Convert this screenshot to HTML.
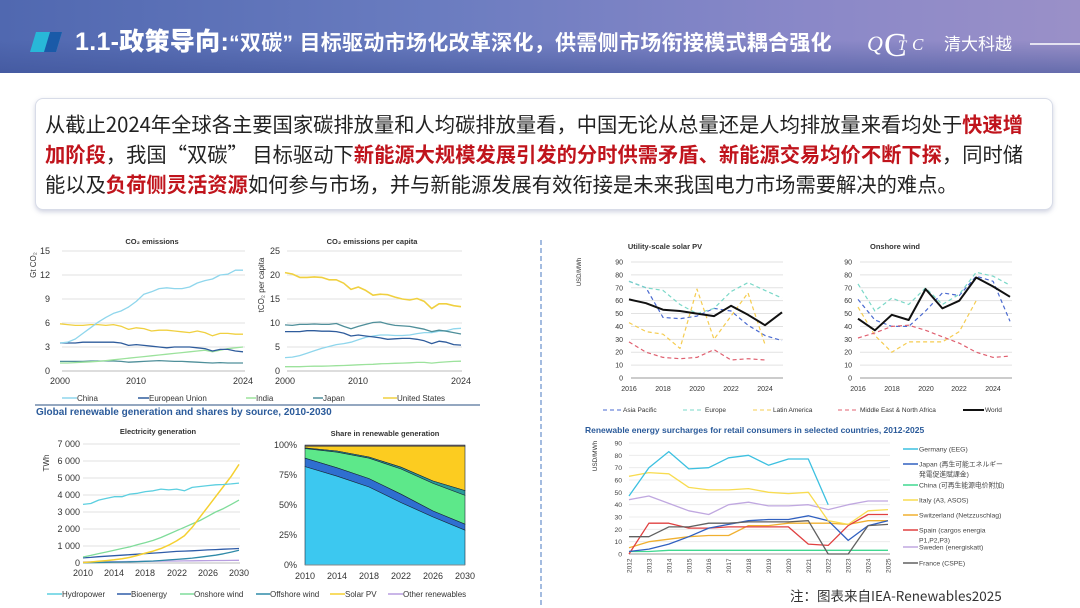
<!DOCTYPE html>
<html><head><meta charset="utf-8">
<style>
html,body{margin:0;padding:0;background:#fff;}
body{width:1080px;height:608px;position:relative;overflow:hidden;font-family:"Liberation Sans","Noto Sans CJK SC",sans-serif;}
.hdr{position:absolute;left:0;top:0;width:1080px;height:73px;background:linear-gradient(90deg,#5068b0 0%,#6a7cc0 40%,#8a88c8 75%,#9a90c8 100%);}
.hdr .sky{position:absolute;left:0;top:40px;width:1080px;height:33px;background:linear-gradient(180deg,rgba(80,100,170,0) 0%,rgba(60,80,150,0.55) 100%);}
.title{position:absolute;left:75px;top:22px;color:#fff;font-weight:bold;font-size:21px;white-space:nowrap;font-family:"Liberation Sans","Noto Sans CJK SC",sans-serif;letter-spacing:0.3px;}
.title b{font-size:25px;}
.box{position:absolute;left:35px;top:98px;width:1016px;height:110px;border:1px solid #d8dce8;border-radius:8px;box-shadow:0 2px 5px rgba(120,130,170,0.35);background:#fff;}
.txt{position:absolute;left:45px;top:108px;width:1010px;font-size:20.3px;line-height:30px;color:#222;font-family:"Noto Sans CJK SC",sans-serif;white-space:nowrap;}
.txt em{font-style:normal;color:#c0141c;font-weight:bold;}
svg{position:absolute;left:0;top:0;}
</style></head><body>
<div class="hdr"><div class="sky"></div></div>
<svg width="1080" height="73" style="z-index:1">
<polygon points="36,32 62,32 56,52 30,52" fill="#28b8d8"/>
<polygon points="50,32 62,32 56,52 44,52" fill="#1a5aa8"/>
<text x="867" y="51" fill="#fff" font-size="22" font-style="italic" font-family="Liberation Serif,serif">Q</text>
<text x="884" y="56" fill="#fff" font-size="34" font-family="Liberation Serif,serif">C</text>
<text x="898" y="50" fill="#fff" font-size="15" font-style="italic" font-family="Liberation Serif,serif">T</text>
<text x="912" y="50" fill="#fff" font-size="17" font-style="italic" font-family="Liberation Serif,serif">C</text>
<text x="944" y="50" fill="#fff" font-size="17" font-family="Noto Sans CJK SC,sans-serif">清大科越</text>
<line x1="1030" y1="44" x2="1080" y2="44" stroke="#fff" stroke-width="1.5"/>
</svg>
<div class="title" style="z-index:2"><b>1.1-政策导向:</b>“双碳” 目标驱动市场化改革深化，供需侧市场衔接模式耦合强化</div>
<div class="box"></div>
<div class="txt">从截止2024年全球各主要国家碳排放量和人均碳排放量看，中国无论从总量还是人均排放量来看均处于<em>快速增</em><br><em>加阶段</em>，我国“双碳” 目标驱动下<em>新能源大规模发展引发的分时供需矛盾、新能源交易均价不断下探</em>，同时储<br>能以及<em>负荷侧灵活资源</em>如何参与市场，并与新能源发展有效衔接是未来我国电力市场需要解决的难点。</div>

<svg id="ch" width="1080" height="608" font-family="Liberation Sans,Arial,sans-serif" style="top:0">
<line x1="541" y1="240" x2="541" y2="605" stroke="#4a78c0" stroke-width="1" stroke-dasharray="5,3"/>
<g id="grids" stroke="#e2e2e2" stroke-width="1"></g>
<g font-size="9" fill="#333">
<text x="152" y="244" text-anchor="middle" font-weight="bold" font-size="7.5">CO₂ emissions</text>
<text x="50" y="254" text-anchor="end">15</text><text x="50" y="278" text-anchor="end">12</text><text x="50" y="302" text-anchor="end">9</text><text x="50" y="326" text-anchor="end">6</text><text x="50" y="350" text-anchor="end">3</text><text x="50" y="374" text-anchor="end">0</text>
<text x="60" y="384" text-anchor="middle">2000</text><text x="136" y="384" text-anchor="middle">2010</text><text x="243" y="384" text-anchor="middle">2024</text>
<text transform="translate(36,265) rotate(-90)" text-anchor="middle" font-size="8">Gt CO₂</text>
<text x="372" y="244" text-anchor="middle" font-weight="bold" font-size="7.5">CO₂ emissions per capita</text>
<text x="280" y="254" text-anchor="end">25</text><text x="280" y="278" text-anchor="end">20</text><text x="280" y="302" text-anchor="end">15</text><text x="280" y="326" text-anchor="end">10</text><text x="280" y="350" text-anchor="end">5</text><text x="280" y="374" text-anchor="end">0</text>
<text x="285" y="384" text-anchor="middle">2000</text><text x="358" y="384" text-anchor="middle">2010</text><text x="461" y="384" text-anchor="middle">2024</text>
<text transform="translate(264,285) rotate(-90)" text-anchor="middle" font-size="8">tCO₂ per capita</text>
<g font-size="8">
<text x="77" y="401">China</text><text x="149" y="401">European Union</text><text x="256" y="401">India</text><text x="323" y="401">Japan</text><text x="397" y="401">United States</text>
</g>
<line x1="62" y1="398" x2="77" y2="398" stroke="#8fd6ec" stroke-width="1.5"/>
<line x1="138" y1="398" x2="149" y2="398" stroke="#2f5c9c" stroke-width="1.5"/>
<line x1="246" y1="398" x2="256" y2="398" stroke="#9ce29c" stroke-width="1.5"/>
<line x1="313" y1="398" x2="323" y2="398" stroke="#4f8f9a" stroke-width="1.5"/>
<line x1="383" y1="398" x2="397" y2="398" stroke="#f0d040" stroke-width="1.5"/>
<line x1="35" y1="405" x2="480" y2="405" stroke="#2a4f80" stroke-width="1"/>
<text x="36" y="415" font-weight="bold" fill="#2a5a9a" font-size="10">Global renewable generation and shares by source, 2010-2030</text>
<text x="158" y="434" text-anchor="middle" font-weight="bold" font-size="7.5">Electricity generation</text>
<g text-anchor="end"><text x="80" y="447">7 000</text><text x="80" y="464">6 000</text><text x="80" y="481">5 000</text><text x="80" y="498">4 000</text><text x="80" y="515">3 000</text><text x="80" y="532">2 000</text><text x="80" y="549">1 000</text><text x="80" y="566">0</text></g>
<g text-anchor="middle"><text x="83" y="576">2010</text><text x="114" y="576">2014</text><text x="145" y="576">2018</text><text x="177" y="576">2022</text><text x="208" y="576">2026</text><text x="239" y="576">2030</text></g>
<text transform="translate(49,463) rotate(-90)" text-anchor="middle" font-size="8">TWh</text>
<text x="385" y="436" text-anchor="middle" font-weight="bold" font-size="7.5">Share in renewable generation</text>
<g text-anchor="end"><text x="297" y="448">100%</text><text x="297" y="478">75%</text><text x="297" y="508">50%</text><text x="297" y="538">25%</text><text x="297" y="568">0%</text></g>
<g text-anchor="middle"><text x="305" y="579">2010</text><text x="337" y="579">2014</text><text x="369" y="579">2018</text><text x="401" y="579">2022</text><text x="433" y="579">2026</text><text x="465" y="579">2030</text></g>
<g font-size="8"><text x="62" y="597">Hydropower</text><text x="131" y="597">Bioenergy</text><text x="194" y="597">Onshore wind</text><text x="270" y="597">Offshore wind</text><text x="345" y="597">Solar PV</text><text x="403" y="597">Other renewables</text></g>
<line x1="47" y1="594" x2="62" y2="594" stroke="#5ccfe0" stroke-width="1.5"/>
<line x1="117" y1="594" x2="131" y2="594" stroke="#2f5ca8" stroke-width="1.5"/>
<line x1="180" y1="594" x2="194" y2="594" stroke="#7fdc9a" stroke-width="1.5"/>
<line x1="256" y1="594" x2="270" y2="594" stroke="#2f8aa8" stroke-width="1.5"/>
<line x1="330" y1="594" x2="345" y2="594" stroke="#f5d030" stroke-width="1.5"/>
<line x1="388" y1="594" x2="403" y2="594" stroke="#b89ee0" stroke-width="1.5"/>
<text x="665" y="249" text-anchor="middle" font-weight="bold" font-size="7.5">Utility-scale solar PV</text>
<text x="895" y="249" text-anchor="middle" font-weight="bold" font-size="7.5">Onshore wind</text>
<text transform="translate(581,272) rotate(-90)" text-anchor="middle" font-size="6">USD/MWh</text>
<g font-size="7" text-anchor="end" id="ylab56"></g>
<g font-size="7" text-anchor="middle">
<text x="629" y="391">2016</text><text x="663" y="391">2018</text><text x="697" y="391">2020</text><text x="731" y="391">2022</text><text x="765" y="391">2024</text>
<text x="858" y="391">2016</text><text x="892" y="391">2018</text><text x="926" y="391">2020</text><text x="959" y="391">2022</text><text x="993" y="391">2024</text>
</g>
<g font-size="6.5"><text x="623" y="412">Asia Pacific</text><text x="705" y="412">Europe</text><text x="773" y="412">Latin America</text><text x="860" y="412">Middle East &amp; North Africa</text><text x="985" y="412">World</text></g>
<line x1="603" y1="410" x2="622" y2="410" stroke="#4a6ad0" stroke-dasharray="4,3"/>
<line x1="683" y1="410" x2="703" y2="410" stroke="#7ad8c8" stroke-dasharray="4,3"/>
<line x1="753" y1="410" x2="771" y2="410" stroke="#f5cc50" stroke-dasharray="4,3"/>
<line x1="838" y1="410" x2="858" y2="410" stroke="#e06070" stroke-dasharray="4,3"/>
<line x1="963" y1="410" x2="984" y2="410" stroke="#111" stroke-width="2"/>
<text x="585" y="433" font-weight="bold" fill="#2a5a9a" font-size="8.5">Renewable energy surcharges for retail consumers in selected countries, 2012-2025</text>
<text transform="translate(597,456) rotate(-90)" text-anchor="middle" font-size="6.5">USD/MWh</text>
<g font-size="6.8" fill="#444" id="c7lab"></g>
<text x="790" y="601" font-size="13.5" fill="#333" font-family="Noto Sans CJK SC,sans-serif">注：图表来自IEA-Renewables2025</text>
</g>
<g id="plots"></g>
</svg>
<script>
(function(){
var NS="http://www.w3.org/2000/svg",P=document.getElementById('plots'),G=document.getElementById('grids');
function el(t,a,par){var e=document.createElementNS(NS,t);for(var k in a)e.setAttribute(k,a[k]);(par||P).appendChild(e);return e;}
function line(d,x0,dx,y0,sy,col,w,dash){var p=d.map(function(v,i){return (x0+i*dx).toFixed(1)+","+(y0-v*sy).toFixed(1)}).join(" ");
 var a={points:p,fill:"none",stroke:col,"stroke-width":w||1.3,"stroke-linejoin":"round"};if(dash)a["stroke-dasharray"]=dash;el("polyline",a);}
function grid(x1,x2,ys){ys.forEach(function(y){el("line",{x1:x1,x2:x2,y1:y,y2:y},G);});}
grid(62,245,[251,275,299,323,347]);el("line",{x1:62,x2:245,y1:371,y2:371,stroke:"#bbb"},G);
var dx1=183/24;
line([1.2,1.2,1.2,1.2,1.25,1.25,1.25,1.25,1.2,1.1,1.15,1.2,1.25,1.3,1.25,1.2,1.2,1.15,1.1,1.05,1,1.05,1,1,1],60,dx1,371,8,"#4f8f9a");
line([1,1,1.05,1.1,1.15,1.2,1.3,1.4,1.5,1.6,1.7,1.8,1.9,2,2.1,2.2,2.3,2.4,2.5,2.6,2.4,2.6,2.8,2.9,3],60,dx1,371,8,"#9ce29c");
line([3.5,3.5,3.5,3.6,3.6,3.6,3.6,3.6,3.5,3.2,3.3,3.2,3.1,3,2.9,3,3,3,2.9,2.8,2.5,2.7,2.7,2.5,2.4],60,dx1,371,8,"#2f5c9c");
line([5.9,5.8,5.7,5.7,5.8,5.8,5.7,5.8,5.6,5.2,5.4,5.3,5,5.1,5.1,5,4.9,4.8,5,4.8,4.4,4.7,4.7,4.6,4.6],60,dx1,371,8,"#f0d040");
line([3.5,3.6,4,4.7,5.4,6.1,6.7,7.2,7.5,8,8.7,9.6,9.9,10.3,10.4,10.3,10.3,10.5,11,11.3,11.5,12,12.1,12.6,12.6],60,dx1,371,8,"#8fd6ec");
grid(287,462,[251,275,299,323,347]);el("line",{x1:287,x2:462,y1:371,y2:371,stroke:"#bbb"},G);
var dx2=176/24;
line([0.9,0.9,0.9,0.95,1,1,1.05,1.1,1.15,1.2,1.3,1.35,1.4,1.5,1.55,1.6,1.65,1.7,1.8,1.8,1.65,1.8,1.9,2,2.05],285,dx2,371,4.8,"#9ce29c");
line([2.8,2.9,3.2,3.7,4.2,4.7,5.1,5.5,5.7,6,6.5,7,7.3,7.5,7.5,7.4,7.4,7.5,7.8,8,8,8.3,8.4,8.8,8.9],285,dx2,371,4.8,"#8fd6ec");
line([8.2,8.2,8.2,8.4,8.4,8.3,8.3,8.2,7.9,7.3,7.5,7.3,7.1,6.9,6.6,6.7,6.8,6.8,6.6,6.3,5.7,6.2,6,5.5,5.4],285,dx2,371,4.8,"#2f5c9c");
line([9.6,9.5,9.7,9.7,9.8,9.7,9.7,9.9,9.3,8.8,9.3,9.7,10.1,10.2,9.8,9.5,9.4,9.3,9,8.7,8.2,8.5,8.3,8,7.7],285,dx2,371,4.8,"#4f8f9a");
line([20.5,20.2,19.5,19.5,19.6,19.5,19,19,18.3,17,17.5,16.8,15.8,16,15.9,15.4,15,14.8,15.1,14.5,13,14,14,13.6,13.4],285,dx2,371,4.8,"#f0d040",1.6);
grid(83,240,[444,461,478,495,512,529,546]);el("line",{x1:83,x2:240,y1:563,y2:563,stroke:"#bbb"},G);
var dx3=156/20,s3=119/7000;
line([60,65,70,75,80,85,90,95,100,105,110,115,120,125,130,135,140,145,150,155,160],83,dx3,563,s3,"#b89ee0");
line([20,25,30,40,50,60,70,80,100,120,150,180,210,250,290,340,400,460,540,640,750],83,dx3,563,s3,"#2f8aa8");
line([300,330,370,400,430,460,490,520,550,580,610,650,680,700,720,740,770,790,810,830,850],83,dx3,563,s3,"#2f5ca8");
line([350,450,550,650,750,850,950,1080,1200,1330,1500,1700,1900,2100,2300,2500,2750,3000,3200,3450,3700],83,dx3,563,s3,"#7fdc9a");
line([30,60,100,140,190,250,330,450,580,700,850,1050,1300,1600,2100,2700,3300,3900,4500,5100,5800],83,dx3,563,s3,"#f5d030",1.5);
line([3450,3500,3700,3800,3900,3900,4050,4100,4200,4250,4350,4300,4350,4250,4450,4500,4550,4600,4620,4650,4700],83,dx3,563,s3,"#5ccfe0");
var xs=[305,337,369,401,433,465];
function yv(p){return 565-p*1.2;}
function band(top,bot,col){var pts=top.map(function(v,i){return xs[i]+","+yv(v)});for(var i=bot.length-1;i>=0;i--)pts.push(xs[i]+","+yv(bot[i]));el("polygon",{points:pts.join(" "),fill:col,stroke:"#1a2a3a","stroke-width":0.6});}
var z=[0,0,0,0,0,0],h=[82,74,65,52,40,29],b=[89,81,72,59,45,34],o=[97,94,89,80,68,58],of=[97.6,95,90,81.5,70,62],s=[99,99,99,99,99,99],t=[100,100,100,100,100,100];
band(t,s,"#8a6a70");band(s,of,"#fccc20");band(of,o,"#2a9a9a");band(o,b,"#5de88a");band(b,h,"#2f6fd0");band(h,z,"#3cc8f0");
el("line",{x1:305,x2:465,y1:565,y2:565,stroke:"#888"});
var yl=document.getElementById('ylab56');
[0,10,20,30,40,50,60,70,80,90].forEach(function(v){var y=378-v*116/90;
 [[623,631,783],[852,860,1012]].forEach(function(c){var tx=document.createElementNS(NS,"text");tx.setAttribute("x",c[0]);tx.setAttribute("y",y+2.5);tx.textContent=v;yl.appendChild(tx);
 el("line",{x1:c[1],x2:c[2],y1:y,y2:y,stroke:v?"#e2e2e2":"#999"},G);});});
var s5=116/90,d5=153/9,d6=152/9;
line([75,70,47,46,48,54,52,41,33,29],629,d5,378,s5,"#4a6ad0",1.2,"4,3");
line([75,70,68,57,50,54,67,74,68,62],629,d5,378,s5,"#7ad8c8",1.2,"4,3");
line([43,36,34,23,69,30,48,66,26],629,d5,378,s5,"#f5cc50",1.2,"4,3");
line([28,20,16,15,16,22,14,15,14],629,d5,378,s5,"#e06070",1.2,"4,3");
line([61,58,53,52,50,48,56,49,41,51],629,d5,378,s5,"#111",2);
line([61,45,40,40,52,66,64,79,75,44],858,d6,378,s5,"#4a6ad0",1.2,"4,3");
line([73,52,62,57,70,57,65,82,79,72],858,d6,378,s5,"#7ad8c8",1.2,"4,3");
line([55,33,20,28,28,28,36,60],858,d6,378,s5,"#f5cc50",1.2,"4,3");
line([31,35,40,41,37,32,27,20,16,17],858,d6,378,s5,"#e06070",1.2,"4,3");
line([46,37,49,45,69,54,60,78,71,63],858,d6,378,s5,"#111",2);
var c7=document.getElementById('c7lab'),d7=259/13,s7=111/90;
[0,10,20,30,40,50,60,70,80,90].forEach(function(v){var y=554-v*s7;var tx=document.createElementNS(NS,"text");tx.setAttribute("x",622);tx.setAttribute("y",y+2.5);tx.setAttribute("text-anchor","end");tx.textContent=v;c7.appendChild(tx);
 el("line",{x1:629,x2:890,y1:y,y2:y,stroke:v?"#ececec":"#999"},G);});
for(var i=0;i<14;i++){var x=629+i*d7;var tx=document.createElementNS(NS,"text");tx.setAttribute("transform","translate("+(x+2.5)+",573) rotate(-90)");tx.textContent=2012+i;tx.setAttribute("font-size","6.5");c7.appendChild(tx);}
line([2,2,3,3,3,3,3,3,3,3,3,3,3,3],629,d7,554,s7,"#40d890");
line([44,47,41,35,32,40,42,39,39,40,36,40,43,43],629,d7,554,s7,"#c0a8e0");
line([5,10,12,14,15,15,23,23,25,25,25,24,27,27],629,d7,554,s7,"#f0b030");
line([0,25,25,21,21,22,22,22,22,8,7,23,32,32],629,d7,554,s7,"#e04040");
line([2,4,8,14,21,24,27,28,28,31,27,11,23,27],629,d7,554,s7,"#3060c0");
line([14,14,22,22,25,25,26,26,26,27,0,0,23,24],629,d7,554,s7,"#606060");
line([63,66,65,54,52,52,53,50,49,50,27,24,35,36],629,d7,554,s7,"#f8dc50");
line([47,70,83,69,70,78,80,72,77,77,40],629,d7,554,s7,"#3cc0e0");
var leg=[["Germany (EEG)",449,"#3cc0e0"],["Japan (再生可能エネルギー",464,"#3060c0"],["発電促進賦課金)",474,null],["China (可再生能源电价附加)",485,"#40d890"],["Italy (A3, ASOS)",500,"#f8dc50"],["Switzerland (Netzzuschlag)",515,"#f0b030"],["Spain (cargos energia",530,"#e04040"],["P1,P2,P3)",540,null],["Sweden (energiskatt)",547,"#c0a8e0"],["France (CSPE)",563,"#606060"]];
leg.forEach(function(l){var tx=document.createElementNS(NS,"text");tx.setAttribute("x",919);tx.setAttribute("y",l[1]+2.5);tx.setAttribute("font-family","Liberation Sans,Noto Sans CJK JP,sans-serif");tx.textContent=l[0];c7.appendChild(tx);
 if(l[2])el("line",{x1:903,x2:918,y1:l[1],y2:l[1],stroke:l[2],"stroke-width":1.5});});
})();
</script>
</body></html>
